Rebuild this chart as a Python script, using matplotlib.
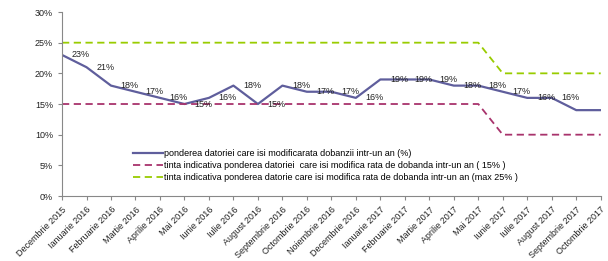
import matplotlib.pyplot as plt
import numpy as np

plt.rcParams['font.family'] = ['Liberation Sans', 'DejaVu Sans']

# luni
luni = ['Decembrie 2015', 'Ianuarie 2016', 'Februarie 2016', 'Martie 2016', 'Aprilie 2016',
        'Mai 2016', 'Iunie 2016', 'Iulie 2016', 'August 2016', 'Septembrie 2016',
        'Octombrie 2016', 'Noiembrie 2016', 'Decembrie 2016', 'Ianuarie 2017',
        'Februarie 2017', 'Martie 2017', 'Aprilie 2017', 'Mai 2017', 'Iunie 2017',
        'Iulie 2017', 'August 2017', 'Septembrie 2017', 'Octombrie 2017']

# valori (%)
pondere = [23, 21, 18, 17, 16, 15, 16, 18, 15, 18, 17, 17, 16, 19, 19, 19, 18, 18, 17, 16, 16, 14, 14]
tinta_15 = [15] * 18 + [10] * 5
tinta_25 = [25] * 18 + [20] * 5
n_etichete = 21  # ultimele doua puncte fara eticheta

nume = ['ponderea datoriei care isi modificarata dobanzii intr-un an (%)',
        'tinta indicativa ponderea datoriei  care isi modifica rata de dobanda intr-un an ( 15% )',
        'tinta indicativa ponderea datorie care isi modifica rata de dobanda intr-un an (max 25% )']

fig = plt.figure(figsize=(6.08, 2.61), dpi=100)
ax = fig.add_axes([0.102, 0.249, 0.886, 0.705])

x = np.arange(len(luni))
ax.plot(x, pondere, color='#5F5E9C', lw=1.6, label=nume[0])
ax.plot(x, tinta_15, color='#A8336C', lw=1.3, dashes=(4, 2.5), label=nume[1])
ax.plot(x, tinta_25, color='#99CC00', lw=1.3, dashes=(4, 2.5), label=nume[2])

for i in range(n_etichete):
    ax.annotate(f'{pondere[i]}%', (x[i], pondere[i]), xytext=(7, 0),
                textcoords='offset points', va='center', ha='left',
                fontsize=6.5, color='#222222')

ax.set_xlim(0, len(luni) - 1)
ax.set_ylim(0, 30)
ax.set_yticks(range(0, 31, 5))
ax.set_yticklabels([f'{v}%' for v in range(0, 31, 5)], fontsize=6.5)
ax.set_xticks(x)
ax.set_xticklabels(luni, rotation=45, ha='right', rotation_mode='anchor', fontsize=6.5)

for s in ['top', 'right']:
    ax.spines[s].set_visible(False)
for s in ['left', 'bottom']:
    ax.spines[s].set_color('#888888')
    ax.spines[s].set_linewidth(0.8)
ax.tick_params(colors='#888888', labelcolor='#222222', length=3, width=0.8)

ax.legend(loc='upper left', bbox_to_anchor=(0.125, 0.275), frameon=False,
          fontsize=6.5, handlelength=3.3, handletextpad=0.1, labelspacing=0.35,
          borderaxespad=0)

fig.savefig('out.png', dpi=100)
